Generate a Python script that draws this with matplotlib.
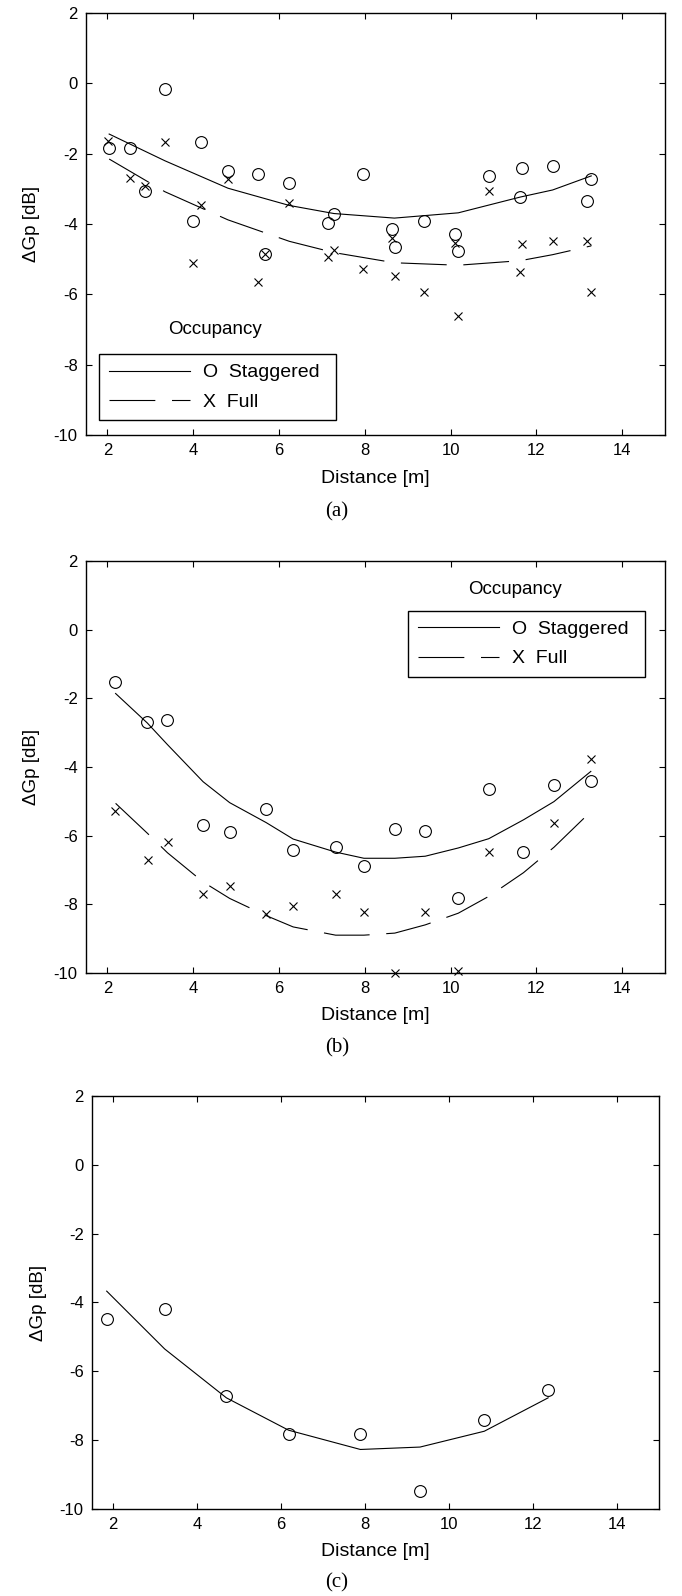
import matplotlib
matplotlib.use("Agg")
import matplotlib.pyplot as plt
from matplotlib.lines import Line2D

plt.rcParams["font.family"] = ["Liberation Sans", "DejaVu Sans"]
plt.rcParams["axes.unicode_minus"] = False
plt.rcParams["lines.scale_dashes"] = False

# ---- panel (a) ----
a_stag_x = [2.04, 2.52, 2.87, 3.34, 3.99, 4.19, 4.81, 5.51, 5.68, 6.24, 7.15, 7.28,
            7.95, 8.63, 8.71, 9.38, 10.10, 10.18, 10.90, 11.63, 11.66, 12.38, 13.19, 13.28]
a_stag_y = [-1.83, -1.83, -3.07, -0.15, -3.92, -1.67, -2.48, -2.59, -4.86, -2.82, -3.98, -3.70,
            -2.59, -4.15, -4.66, -3.92, -4.27, -4.76, -2.64, -3.23, -2.41, -2.36, -3.34, -2.71]
a_full_x = [2.02, 2.52, 2.87, 3.34, 3.99, 4.19, 4.81, 5.52, 5.68, 6.24, 7.15, 7.28,
            7.95, 8.63, 8.71, 9.38, 10.10, 10.18, 10.90, 11.63, 11.66, 12.38, 13.19, 13.28]
a_full_y = [-1.64, -2.70, -2.93, -1.66, -5.12, -3.47, -2.71, -5.65, -4.86, -3.40, -4.94, -4.74,
            -5.29, -4.40, -5.47, -5.94, -4.55, -6.60, -3.06, -5.36, -4.57, -4.49, -4.49, -5.94]
a_fit_x = [2.04, 3.34, 4.81, 6.24, 7.28, 8.69, 10.18, 11.63, 12.38, 13.28]
a_stag_fit = [-1.44, -2.20, -2.98, -3.47, -3.70, -3.83, -3.68, -3.23, -3.03, -2.63]
a_full_fit = [-2.15, -3.08, -3.88, -4.49, -4.81, -5.10, -5.17, -5.04, -4.87, -4.62]

# ---- panel (b) ----
b_stag_x = [2.17, 2.93, 3.40, 4.23, 4.85, 5.70, 6.33, 7.32, 7.98, 8.70, 9.41, 10.18,
            10.89, 11.70, 12.41, 13.27]
b_stag_y = [-1.53, -2.68, -2.62, -5.68, -5.90, -5.22, -6.43, -6.33, -6.89, -5.80, -5.86, -7.81,
            -4.64, -6.48, -4.53, -4.41]
b_full_x = [2.18, 2.94, 3.42, 4.23, 4.85, 5.70, 6.33, 7.32, 7.98, 8.70, 9.41, 10.18,
            10.89, 12.41, 13.27]
b_full_y = [-5.28, -6.71, -6.20, -7.71, -7.47, -8.28, -8.05, -7.70, -8.22, -10.0, -8.22, -9.94,
            -6.49, -5.62, -3.76]
b_fit_x = [2.19, 2.93, 3.40, 4.23, 4.85, 5.70, 6.33, 7.32, 7.98, 8.70, 9.41, 10.18,
           10.89, 11.70, 12.41, 13.27]
b_stag_fit = [-1.86, -2.72, -3.35, -4.43, -5.04, -5.62, -6.10, -6.48, -6.66, -6.66, -6.60, -6.36,
              -6.09, -5.54, -5.01, -4.13]
b_full_fit = [-5.06, -5.93, -6.50, -7.35, -7.83, -8.33, -8.66, -8.90, -8.90, -8.84, -8.60, -8.26,
              -7.77, -7.08, -6.34, -5.30]

# ---- panel (c) ----
c_x = [1.85, 3.23, 4.70, 6.18, 7.89, 9.31, 10.84, 12.36]
c_y = [-4.47, -4.18, -6.72, -7.81, -7.81, -9.48, -7.40, -6.53]
c_fit = [-3.67, -5.35, -6.77, -7.71, -8.27, -8.20, -7.74, -6.77]

x_ticks = [2, 4, 6, 8, 10, 12, 14]
y_ticks = [-10, -8, -6, -4, -2, 0, 2]
legend_labels = ["O  Staggered", "X  Full"]

DASHES = (33, 12)
LW = 0.8


def style_axes(ax):
    ax.set_xlim(1.5, 15)
    ax.set_ylim(-10, 2)
    ax.set_xticks(x_ticks)
    ax.set_yticks(y_ticks)
    ax.tick_params(direction="in", top=True, right=True, length=4, width=0.8,
                   labelsize=12, pad=6)
    for spine in ax.spines.values():
        spine.set_linewidth(1.0)
    ax.set_xlabel("Distance [m]", fontsize=14)
    ax.set_ylabel("ΔGp [dB]", fontsize=13.5)
    ax.xaxis.set_label_coords(0.5, -0.083)
    ax.yaxis.set_label_coords(-0.08, 0.5)


def draw_staggered(ax, x, y, fit_x, fit_y):
    ax.plot(fit_x, fit_y, color="black", lw=LW)
    ax.plot(x, y, linestyle="none", marker="o", mfc="none", mec="black",
            ms=8.5, mew=0.8, clip_on=False)


def draw_full(ax, x, y, fit_x, fit_y):
    ax.plot(fit_x, fit_y, color="black", lw=LW, dashes=DASHES)
    ax.plot(x, y, linestyle="none", marker="x", color="black",
            ms=6, mew=0.8, clip_on=False)


def add_legend(ax, title_xy, anchor):
    ax.text(title_xy[0], title_xy[1], "Occupancy", transform=ax.transAxes,
            ha="center", va="center", fontsize=13.5)
    handles = [Line2D([], [], color="black", lw=LW),
               Line2D([], [], color="black", lw=LW, dashes=DASHES)]
    leg = ax.legend(handles, legend_labels, loc="upper left",
                    bbox_to_anchor=(anchor[0], anchor[1], 0.41, 0), mode="expand",
                    borderaxespad=0, fancybox=False, edgecolor="black", framealpha=1,
                    fontsize=14, handlelength=4.2, handletextpad=0.63,
                    labelspacing=0.6, borderpad=0.5)
    leg.get_frame().set_linewidth(1.0)


fig = plt.figure(figsize=(6.82, 15.96), dpi=100)

ax_a = fig.add_axes([0.1261, 0.7274, 0.849, 0.2644])
draw_staggered(ax_a, a_stag_x, a_stag_y, a_fit_x, a_stag_fit)
draw_full(ax_a, a_full_x, a_full_y, a_fit_x, a_full_fit)
style_axes(ax_a)
add_legend(ax_a, (0.223, 0.249), (0.0225, 0.192))

ax_b = fig.add_axes([0.1261, 0.3904, 0.849, 0.2581])
draw_staggered(ax_b, b_stag_x, b_stag_y, b_fit_x, b_stag_fit)
draw_full(ax_b, b_full_x, b_full_y, b_fit_x, b_full_fit)
style_axes(ax_b)
add_legend(ax_b, (0.741, 0.932), (0.556, 0.879))

ax_c = fig.add_axes([0.1349, 0.0545, 0.8314, 0.2588])
draw_staggered(ax_c, c_x, c_y, c_x, c_fit)
style_axes(ax_c)

for label, y in [("(a)", 1 - 512 / 1596), ("(b)", 1 - 1048 / 1596), ("(c)", 1 - 1583 / 1596)]:
    fig.text(0.494, y, label, ha="center", va="center", fontsize=15,
             family=["Liberation Serif", "DejaVu Serif"])

fig.savefig("out.png", dpi=100)
plt.close(fig)
